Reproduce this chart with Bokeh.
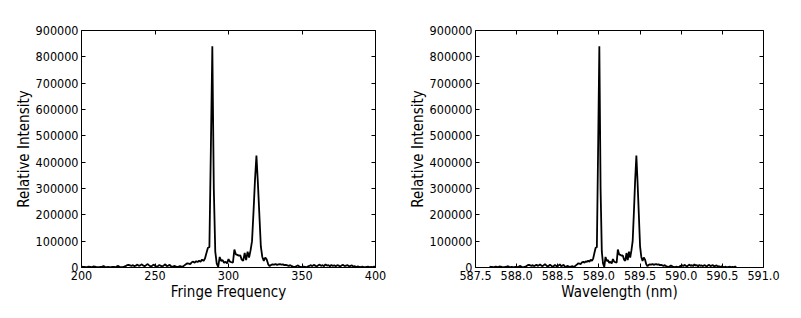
from bokeh.plotting import figure
from bokeh.layouts import row
from bokeh.models import FixedTicker, LinearAxis, NumeralTickFormatter, BasicTickFormatter, Range1d
from bokeh.embed import file_html
from bokeh.resources import INLINE

# Fringe frequency samples (integer steps 200..400)
fringe = list(range(200, 401))

# Wavelength calibration of the fringe axis (nm)
wl_start = 587.67
wl_step = 0.015
wavelength = [round(wl_start + wl_step * (f - 200), 4) for f in fringe]

# Relative intensity, one value per fringe sample
intensity = [
    # 200-229
    3000, 2000, 2500, 1500, 2000, 3000, 2000, 1000, 4000, 3000,
    2000, 1500, 1000, 2000, 3000, 5000, 2500, 1500, 2000, 1000,
    1500, 2500, 2000, 1000, 4000, 6000, 2000, 1000, 1500, 3000,
    # 230-259
    5000, 9000, 10000, 8000, 6000, 9000, 5000, 7000, 11000, 6000,
    8000, 12000, 7000, 5000, 9000, 13000, 8000, 4000, 6000, 11000,
    7000, 3000, 5000, 10000, 6000, 4000, 8000, 12000, 5000, 7000,
    # 260-271
    10000, 4000, 3000, 6000, 4000, 2000, 3000, 5000, 3000, 4000, 8000, 12000,
    # 272-285
    16000, 15000, 13000, 20000, 22000, 18000, 24000, 21000, 26000, 22000,
    30000, 25000, 34000, 55000,
    # 286-293
    75000, 77000, 450000, 840000, 300000, 60000, 15000, 2000,
    # 294-315
    40000, 25000, 28000, 18000, 22000, 15000, 32000, 22000, 20000, 18000,
    68000, 50000, 48000, 45000, 46000, 30000, 25000, 55000, 28000, 60000,
    38000, 65000,
    # 316-323
    100000, 210000, 330000, 425000, 320000, 200000, 80000, 40000,
    # 324-340
    25000, 38000, 30000, 12000, 5000, 10000, 12000, 11000, 13000, 10000,
    12000, 13000, 11000, 12000, 9000, 10000, 8000,
    # 341-355
    6000, 9000, 5000, 3000, 2000, 4000, 8000, 5000, 2000, 1000,
    3000, 2000, 1000, 4000, 6000,
    # 356-388
    9000, 5000, 10000, 7000, 4000, 8000, 11000, 6000, 9000, 5000,
    12000, 7000, 9000, 4000, 10000, 6000, 8000, 5000, 9000, 7000,
    4000, 8000, 10000, 5000, 7000, 9000, 4000, 6000, 8000, 3000,
    5000, 2000, 4000,
    # 389-400
    2000, 1000, 3000, 1500, 1000, 2000, 3000, 1000, 2000, 1500, 3000, 2000,
]

y_ticks = [0, 100000, 200000, 300000, 400000, 500000, 600000, 700000, 800000, 900000]
x1_ticks = [200, 250, 300, 350, 400]
x2_ticks = [587.5, 588.0, 588.5, 589.0, 589.5, 590.0, 590.5, 591.0]

FONT = "DejaVu Sans Condensed"


def style_axis(ax, show_labels=True):
    ax.axis_line_color = None
    ax.major_tick_in = 4
    ax.major_tick_out = 0
    ax.minor_tick_line_color = None
    ax.major_tick_line_color = "black"
    ax.major_label_text_font = FONT
    ax.major_label_text_font_size = "12.5px"
    ax.major_label_text_color = "black" if show_labels else None
    ax.major_label_standoff = 3
    ax.axis_label_text_font = FONT
    ax.axis_label_text_font_size = "15px"
    ax.axis_label_text_font_style = "normal"
    ax.axis_label_text_color = "black"
    ax.axis_label_standoff = 0


def make_fig(x, y, xr, xticks, xlabel, xfmt, width, bl, br):
    p = figure(width=width, height=310, output_backend="svg", toolbar_location=None,
               x_range=Range1d(*xr), y_range=Range1d(0, 900000),
               min_border_left=bl, min_border_right=br, min_border_top=30, min_border_bottom=43)
    p.line(x, y, line_color="black", line_width=1.8)
    p.grid.visible = False
    p.outline_line_color = "black"
    p.outline_line_width = 1
    p.background_fill_color = "white"
    p.border_fill_color = "white"

    p.xaxis.ticker = FixedTicker(ticks=xticks)
    p.xaxis.formatter = xfmt
    p.xaxis.axis_label = xlabel
    p.yaxis.ticker = FixedTicker(ticks=y_ticks)
    p.yaxis.formatter = BasicTickFormatter(use_scientific=False)
    p.yaxis.axis_label = "Relative Intensity"
    style_axis(p.xaxis[0])
    style_axis(p.yaxis[0])

    top = LinearAxis(ticker=FixedTicker(ticks=xticks))
    style_axis(top, show_labels=False)
    top.major_label_text_font_size = "0px"
    p.add_layout(top, "above")
    right = LinearAxis(ticker=FixedTicker(ticks=y_ticks))
    style_axis(right, show_labels=False)
    right.major_label_text_font_size = "0px"
    p.add_layout(right, "right")
    return p


p1 = make_fig(fringe, intensity, (200, 400), x1_ticks, "Fringe Frequency",
              BasicTickFormatter(use_scientific=False), 400, 81, 25)
p2 = make_fig(wavelength, intensity, (587.5, 591.0), x2_ticks, "Wavelength (nm)",
              NumeralTickFormatter(format="0.0"), 390, 75, 27)

layout = row(p1, p2)
open("out.html", "w").write(file_html(layout, INLINE))
